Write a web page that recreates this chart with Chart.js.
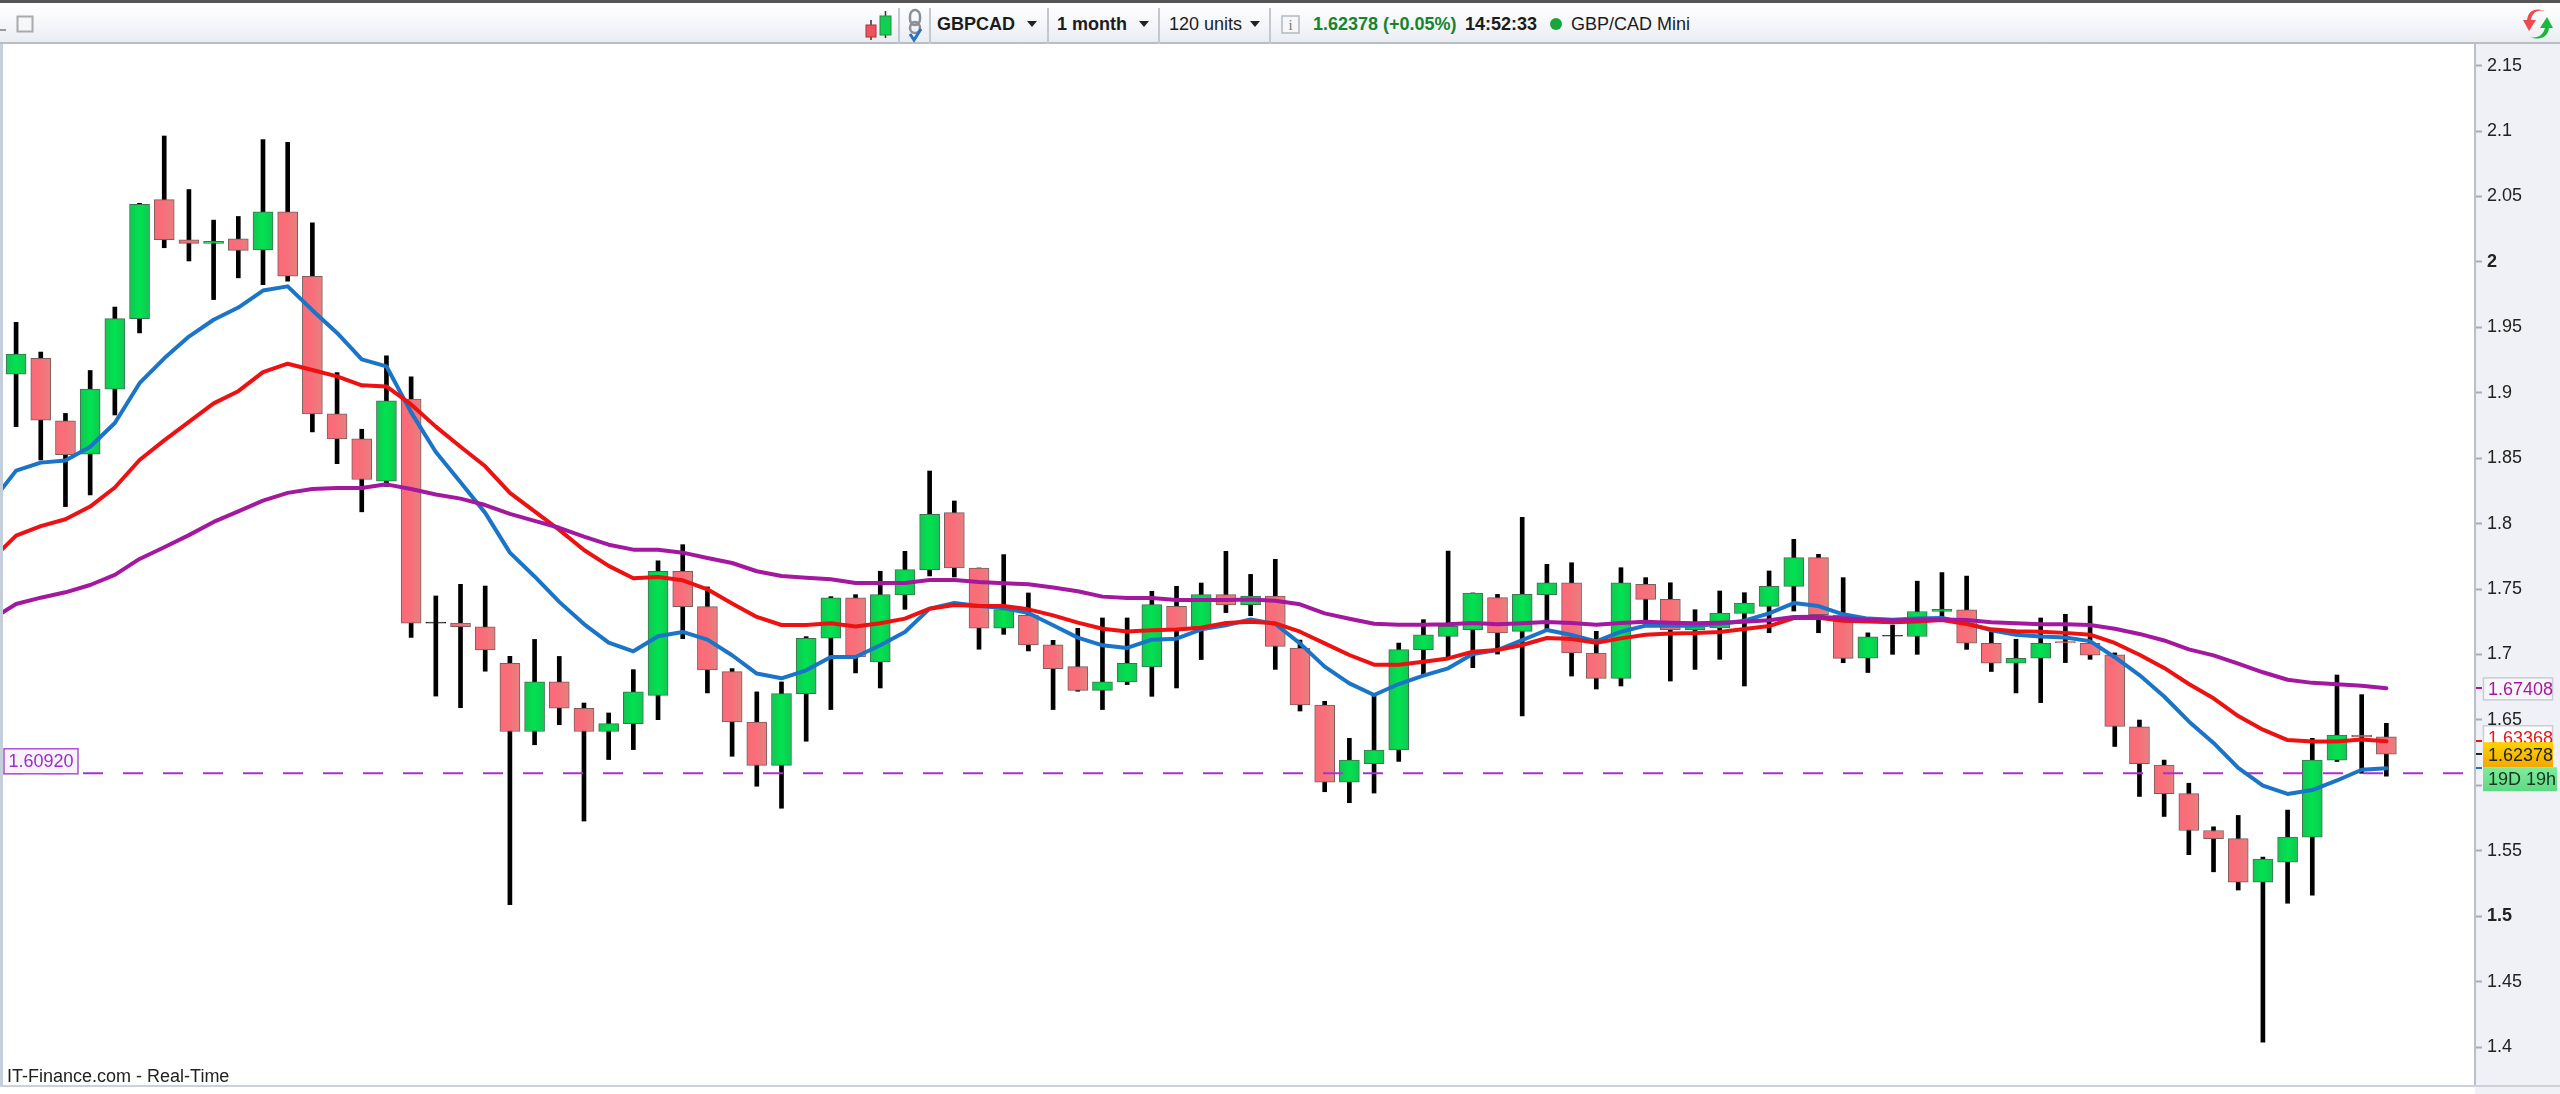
<!DOCTYPE html>
<html>
<head>
<meta charset="utf-8">
<title>GBPCAD</title>
<script src="https://cdn.jsdelivr.net/npm/chart.js@4"></script>
<style>
html,body{margin:0;padding:0;background:#fff;width:2560px;height:1094px;overflow:hidden;font-family:"Liberation Sans",Arial,sans-serif}
#c{position:absolute;left:0;top:0}
#bar{position:absolute;left:0;top:0;width:2560px;height:44px;border-top:3px solid #555;box-sizing:border-box;border-bottom:2px solid #b9bec6;background:linear-gradient(#fff,#f3f5f9 60%,#e9ecf2)}
#bar span{position:absolute;top:11px;font-size:18px;line-height:20px;color:#1c1c1c;white-space:nowrap}
#bar .b{font-weight:bold}
#bar i{position:absolute;top:5px;height:36px;width:2px;background:#c3c8d0}
#bar u{position:absolute;top:18px;width:0;height:0;border-left:5px solid transparent;border-right:5px solid transparent;border-top:6px solid #222}
#bar svg{position:absolute;left:0;top:-3px}
#foot{position:absolute;left:7px;top:1066px;font-size:18px;line-height:20px;color:#222}
</style>
</head>
<body>
<canvas id="c" width="2560" height="1094"></canvas>
<div id="bar">
  <svg width="2560" height="44">
    <rect x="0" y="29" width="6" height="2" fill="#999"/>
    <rect x="17.5" y="16.5" width="15" height="15" fill="#f6f7f9" stroke="#aaa" stroke-width="2"/>
    <path d="M871 20V40M885.500 11V38" stroke="#333" stroke-width="1.500"/>
    <rect x="866" y="25" width="10" height="12" fill="#f0525f" stroke="#a33"/>
    <rect x="880" y="16" width="11" height="19" fill="#0fd050" stroke="#2a8a45"/>
    <path d="M910 16a5 6 0 0 1 10 0v3a5 6 0 0 1-10 0zM910 28a5 6 0 0 1 10 0v0a5 5 0 0 1-10 0z" fill="none" stroke="#8a8f96" stroke-width="2.500"/>
    <path d="M910 34l4 6 7-11" fill="none" stroke="#2a70c8" stroke-width="3"/>
    <rect x="1282" y="16" width="17" height="17" fill="#f6f7f9" stroke="#b4b8be" stroke-width="1.500"/>
    <text x="1290.500" y="30" font-family="Liberation Serif" font-size="15" fill="#777" text-anchor="middle">i</text>
    <circle cx="1556" cy="24" r="6" fill="#17a53c"/>
    <path d="M2545 11c-8-2-13 2-14 9h5l-7 11-6-11h4c1-9 8-13 18-9z" fill="#ee4a50"/>
    <path d="M2530 37c8 2 13-2 15-9h-5l7-11 6 11h-4c-1 9-9 13-19 9z" fill="#19b83a"/>
  </svg>
  <i style="left:898px"></i><i style="left:929px"></i><i style="left:1047px"></i><i style="left:1158px"></i><i style="left:1269px"></i>
  <span class="b" style="left:937px">GBPCAD</span><u style="left:1027px"></u>
  <span class="b" style="left:1057px">1 month</span><u style="left:1139px"></u>
  <span style="left:1169px">120 units</span><u style="left:1250px"></u>
  <span class="b" style="left:1313px;color:#16842c">1.62378 (+0.05%)</span>
  <span class="b" style="left:1465px">14:52:33</span>
  <span style="left:1571px">GBP/CAD Mini</span>
</div>
<div id="foot">IT-Finance.com - Real-Time</div>
<script>
// ── Data: GBPCAD monthly candles ──

const opens=[1.9142,1.9263,1.8786,1.8531,1.9028,1.9566,2.0476,2.0169,2.0141,2.0177,2.0092,2.0383,1.9890,1.8838,1.8648,1.8324,1.8951,1.7248,1.7240,1.7212,1.6933,1.6411,1.6791,1.6589,1.6411,
1.6472,1.6688,1.7636,1.7366,1.6869,1.6484,1.6153,1.6701,1.7124,1.7432,1.6943,1.7455,1.7648,1.8084,1.7661,1.7200,1.7299,1.7073,1.6907,1.6726,1.6790,1.6905,1.7368,1.7210,1.7457,
1.7380,1.7447,1.7049,1.6614,1.6025,1.6165,1.6270,1.7037,1.7138,1.7189,1.7434,1.7177,1.7457,1.7548,1.7011,1.6817,1.7536,1.7421,1.7189,1.7202,1.7314,1.7368,1.7520,1.7740,1.7301,
1.6971,1.7146,1.7137,1.7328,1.7342,1.7086,1.6933,1.6971,1.7099,1.7086,1.6998,1.6447,1.6155,1.5937,1.5655,1.5593,1.5260,1.5413,1.5604,1.6193,1.6384,1.6370];
const highs=[1.9538,1.9311,1.8842,1.9170,1.9655,2.0448,2.0962,2.0553,2.0319,2.0347,2.0934,2.0913,2.0298,1.9154,1.8721,1.9283,1.9121,1.7447,1.7536,1.7523,1.6985,1.7115,1.6985,1.6629,1.6553,
1.6884,1.7715,1.7839,1.7516,1.6892,1.6714,1.6790,1.7136,1.7442,1.7457,1.7636,1.7788,1.8402,1.8173,1.7661,1.7763,1.7470,1.7108,1.7200,1.7279,1.7279,1.7483,1.7521,1.7546,1.7788,
1.7612,1.7727,1.7110,1.6642,1.6359,1.6690,1.7087,1.7266,1.7790,1.7470,1.7459,1.8048,1.7689,1.7701,1.7177,1.7663,1.7587,1.7548,1.7342,1.7485,1.7472,1.7638,1.7880,1.7765,1.7587,
1.7165,1.7225,1.7560,1.7626,1.7599,1.7197,1.7116,1.7279,1.7307,1.7369,1.7012,1.6499,1.6193,1.6016,1.5683,1.5770,1.5451,1.5811,1.6360,1.6843,1.6693,1.6474];
const lows=[1.8741,1.8486,1.8130,1.8219,1.8830,1.9457,2.0108,2.0007,1.9712,1.9878,1.9825,1.9853,1.8701,1.8458,1.8090,1.8284,1.7131,1.6682,1.6593,1.6872,1.5088,1.6310,1.6463,1.5727,1.6197,
1.6273,1.6502,1.7121,1.6706,1.6222,1.5993,1.5825,1.6337,1.6579,1.6859,1.6744,1.7345,1.7600,1.7592,1.7040,1.7154,1.7027,1.6579,1.6719,1.6579,1.6770,1.6680,1.6744,1.6961,1.7320,
1.7296,1.6886,1.6568,1.5951,1.5867,1.5941,1.6183,1.6830,1.6983,1.6899,1.7003,1.6530,1.7187,1.6835,1.6736,1.6759,1.7225,1.6797,1.6886,1.6963,1.6759,1.7166,1.7332,1.7166,1.6937,
1.6862,1.7001,1.7001,1.7279,1.7039,1.6870,1.6706,1.6632,1.6938,1.6963,1.6297,1.5915,1.5762,1.5470,1.5339,1.5200,1.4037,1.5099,1.5161,1.6182,1.6092,1.6070];
const closes=[1.9295,1.8790,1.8527,1.9028,1.9566,2.0440,2.0169,2.0141,2.0157,2.0088,2.0383,1.9890,1.8838,1.8648,1.8337,1.8939,1.7240,1.7240,1.7212,1.7034,1.6411,1.6791,1.6589,1.6411,1.6472,
1.6714,1.7636,1.7366,1.6882,1.6484,1.6153,1.6701,1.7124,1.7432,1.6981,1.7457,1.7648,1.8071,1.7661,1.7200,1.7343,1.7073,1.6892,1.6726,1.6790,1.6933,1.7381,1.7185,1.7457,1.7378,
1.7447,1.7062,1.6614,1.6025,1.6193,1.6270,1.7037,1.7151,1.7215,1.7470,1.7164,1.7459,1.7548,1.7011,1.6817,1.7548,1.7421,1.7189,1.7243,1.7317,1.7393,1.7520,1.7740,1.7304,1.6970,
1.7135,1.7140,1.7328,1.7345,1.7086,1.6933,1.6971,1.7086,1.7088,1.6995,1.6450,1.6166,1.5937,1.5655,1.5593,1.5260,1.5437,1.5604,1.6193,1.6384,1.6370,1.62378];

// moving averages, first value is the candle just off the left edge
const maBlue=[1.8163,1.8405,1.8466,1.8482,1.8587,1.8769,1.9073,1.9263,1.9429,1.9558,1.9651,1.9781,1.9813,1.9631,1.9457,1.9255,1.9202,1.8850,1.8547,1.8316,1.8082,1.7778,1.7596,1.7402,1.7232,1.7091,
1.7024,1.7139,1.7172,1.7113,1.6994,1.6854,1.6818,1.6879,1.6981,1.6981,1.7070,1.7172,1.7350,1.7394,1.7371,1.7355,1.7317,1.7223,1.7129,1.7070,1.7050,1.7113,1.7121,1.7192,1.7223,
1.7268,1.7233,1.7085,1.6907,1.6779,1.6690,1.6774,1.6838,1.6894,1.7003,1.7034,1.7110,1.7187,1.7149,1.7100,1.7174,1.7220,1.7220,1.7220,1.7233,1.7258,1.7314,1.7393,1.7370,1.7307,
1.7274,1.7266,1.7274,1.7279,1.7238,1.7184,1.7151,1.7137,1.7129,1.7102,1.6979,1.6843,1.6679,1.6488,1.6324,1.6133,1.5997,1.5934,1.5964,1.6037,1.6119,1.6130];
const maRed=[1.7722,1.7908,1.7981,1.8033,1.8130,1.8276,1.8486,1.8636,1.8777,1.8919,1.9012,1.9158,1.9222,1.9174,1.9125,1.9057,1.9048,1.8911,1.8741,1.8587,1.8438,1.8235,1.8094,1.7952,1.7798,1.7677,
1.7582,1.7592,1.7567,1.7498,1.7389,1.7287,1.7225,1.7225,1.7238,1.7213,1.7238,1.7274,1.7350,1.7378,1.7371,1.7371,1.7345,1.7299,1.7243,1.7197,1.7175,1.7185,1.7190,1.7205,1.7241,
1.7250,1.7238,1.7174,1.7085,1.6996,1.6922,1.6922,1.6945,1.6970,1.7021,1.7034,1.7072,1.7126,1.7118,1.7090,1.7123,1.7151,1.7161,1.7164,1.7172,1.7194,1.7217,1.7278,1.7281,1.7258,
1.7252,1.7247,1.7252,1.7263,1.7233,1.7192,1.7178,1.7173,1.7165,1.7151,1.7088,1.6998,1.6897,1.6774,1.6665,1.6529,1.6425,1.6346,1.6335,1.6335,1.6351,1.6337];
const maPurple=[1.7269,1.7386,1.7434,1.7475,1.7531,1.7608,1.7730,1.7819,1.7912,1.8013,1.8094,1.8175,1.8235,1.8264,1.8272,1.8272,1.8300,1.8264,1.8223,1.8191,1.8142,1.8074,1.8021,1.7968,1.7900,1.7839,
1.7801,1.7801,1.7778,1.7737,1.7699,1.7636,1.7600,1.7587,1.7574,1.7546,1.7546,1.7546,1.7569,1.7569,1.7554,1.7544,1.7536,1.7511,1.7483,1.7442,1.7432,1.7432,1.7417,1.7417,1.7417,
1.7420,1.7411,1.7383,1.7314,1.7273,1.7235,1.7228,1.7228,1.7230,1.7240,1.7230,1.7238,1.7248,1.7240,1.7228,1.7240,1.7250,1.7243,1.7238,1.7243,1.7250,1.7261,1.7286,1.7289,1.7276,
1.7266,1.7260,1.7266,1.7268,1.7263,1.7247,1.7238,1.7230,1.7230,1.7225,1.7197,1.7157,1.7107,1.7039,1.6993,1.6930,1.6864,1.6807,1.6783,1.6772,1.6761,1.6741];

const yTicks=[1.4,1.45,1.5,1.55,1.6,1.65,1.7,1.75,1.8,1.85,1.9,1.95,2,2.05,2.1,2.15];
const boldTicks=[1.5,2];
const levelValue=1.6092, levelLabel='1.60920';
const lastPurple=1.67408, lastRed=1.63368, lastPrice=1.62378, lastBlue=1.6130;
const countdown='19D 19h';

// ── Helpers ──

const X_MIN=-0.53, X_MAX=99.59;
const isDoji=i=>Math.abs(closes[i]-opens[i])<0.001;

function bodyFill(ctx){
  if(ctx.type!=='data')return '#888';
  const i=ctx.dataIndex;
  if(isDoji(i))return '#111';
  const up=closes[i]>opens[i];
  const x=ctx.chart.scales.x.getPixelForValue(i);
  // scale has no size yet on the first resolve
  if(!isFinite(x))return up?'#00e34f':'#f86f79';
  const g=ctx.chart.ctx.createLinearGradient(x-10,0,x+10,0);
  if(up){
    g.addColorStop(0,'#14c653');g.addColorStop(.5,'#00e34f');g.addColorStop(1,'#14c653');
  }else{
    g.addColorStop(0,'#fb6a78');g.addColorStop(.5,'#f86f79');g.addColorStop(1,'#e58180');
  }
  return g;
}
function bodyBorder(ctx){
  if(ctx.type!=='data')return '#555';
  const i=ctx.dataIndex;
  if(isDoji(i))return '#111';
  return closes[i]>opens[i]?'#3d7350':'#7c5c5c';
}

function maSet(label,values,color,order){
  return {type:'line',label,data:values.map((v,i)=>({x:i-1,y:v})),borderColor:color,borderWidth:4,
    pointRadius:0,tension:0,borderJoinStyle:'round',borderCapStyle:'round',order};
}

function tag(ctx,x,y,w,h,text,fg,bg,border,weight){
  ctx.fillStyle=bg;ctx.fillRect(x,y,w,h);
  if(border){ctx.strokeStyle=border;ctx.lineWidth=1.5;ctx.strokeRect(x+.5,y+.5,w-1,h-1);}
  ctx.fillStyle=fg;ctx.font=(weight||'')+' 18px "Liberation Sans"';
  ctx.textAlign='left';ctx.textBaseline='middle';
  ctx.fillText(text,x+5,y+h/2+1);
}

const panelPlugin={
  id:'panel',
  beforeDraw(chart){
    const c=chart.ctx,a=chart.chartArea;
    c.save();
    c.fillStyle='#eff1f7';c.fillRect(a.right,a.top,2560-a.right,1094-a.top);
    c.fillStyle='#c5cfdc';c.fillRect(0,a.top,3,a.bottom-a.top);
    c.restore();
  },
  afterDraw(chart){
    const c=chart.ctx,a=chart.chartArea,y=chart.scales.y;
    c.save();
    c.fillStyle='#ccd1d9';c.fillRect(0,a.bottom,2560,2);
    [[lastPurple,'#a5179f'],[lastRed,'#e81515'],[lastPrice,'#222'],[lastBlue,'#1976c8']].forEach(t=>{
      c.fillStyle=t[1];c.fillRect(a.right+1,Math.round(y.getPixelForValue(t[0]))-1,6,2);
    });
    const yP=y.getPixelForValue(lastPurple),yR=y.getPixelForValue(lastRed),yL=y.getPixelForValue(lastPrice);
    tag(c,2483,yP-11,70,23,lastPurple.toFixed(5),'#a5179f','#f6f7fa','#c9ccd2');
    tag(c,2483,yR-16,70,26,lastRed.toFixed(5),'#e81515','#fff','#c9ccd2');
    const g=c.createLinearGradient(0,yL-12,0,yL+12);
    g.addColorStop(0,'#ffd400');g.addColorStop(1,'#f2a900');
    tag(c,2483,yL-12,70,25,lastPrice.toFixed(5),'#222',g);
    const g2=c.createLinearGradient(0,yL+13,0,yL+37);
    g2.addColorStop(0,'#7feb9c');g2.addColorStop(1,'#5fd984');
    tag(c,2483,yL+13,74,24,countdown,'#16351f',g2);
    tag(c,3.5,y.getPixelForValue(levelValue)-25,75,26,levelLabel,'#9a2fc4','#f8f2fc','#a855d0');
    c.restore();
  }
};

// ── Chart ──

new Chart(document.getElementById('c'),{
  data:{datasets:[
    maSet('Purple',maPurple,'#a3189f',1),
    maSet('Red',maRed,'#ee1111',2),
    maSet('Blue',maBlue,'#1a74c8',3),
    {type:'line',label:'Level',data:[{x:X_MIN,y:levelValue},{x:X_MAX,y:levelValue}],borderColor:'#a930d2',borderWidth:2,
      borderDash:[20,20],pointRadius:0,order:4},
    {type:'bar',label:'Body',data:opens.map((o,i)=>({x:i,y:[o,closes[i]]})),backgroundColor:bodyFill,borderColor:bodyBorder,
      borderWidth:1,borderSkipped:false,barThickness:20,grouped:false,order:5},
    {type:'bar',label:'Wick',data:highs.map((h,i)=>({x:i,y:[lows[i],h]})),backgroundColor:'#000',
      barThickness:4,grouped:false,order:6}
  ]},
  options:{responsive:false,animation:false,devicePixelRatio:1,
    layout:{padding:{left:3,top:44,right:0,bottom:9}},
    plugins:{legend:{display:false},tooltip:{enabled:false}},
    scales:{
      x:{type:'linear',min:X_MIN,max:X_MAX,display:false,offset:false},
      y:{position:'right',min:1.371,max:2.1665,
        afterBuildTicks(s){s.ticks=yTicks.map(v=>({value:v}));},
        afterFit(s){s.width=85;s.paddingTop=0;s.paddingBottom=0;},
        border:{color:'#b9c0cc',width:2},
        grid:{drawOnChartArea:false,drawTicks:true,tickLength:7,color:'#a8aeb8',tickWidth:2},
        ticks:{autoSkip:false,padding:5,color:'#222',
          font:c=>({family:'"Liberation Sans"',size:18,weight:boldTicks.includes(c.tick&&c.tick.value)?'bold':'normal'}),
          callback:v=>String(v)}
      }
    }
  },
  plugins:[panelPlugin]
});
</script>
</body>
</html>
